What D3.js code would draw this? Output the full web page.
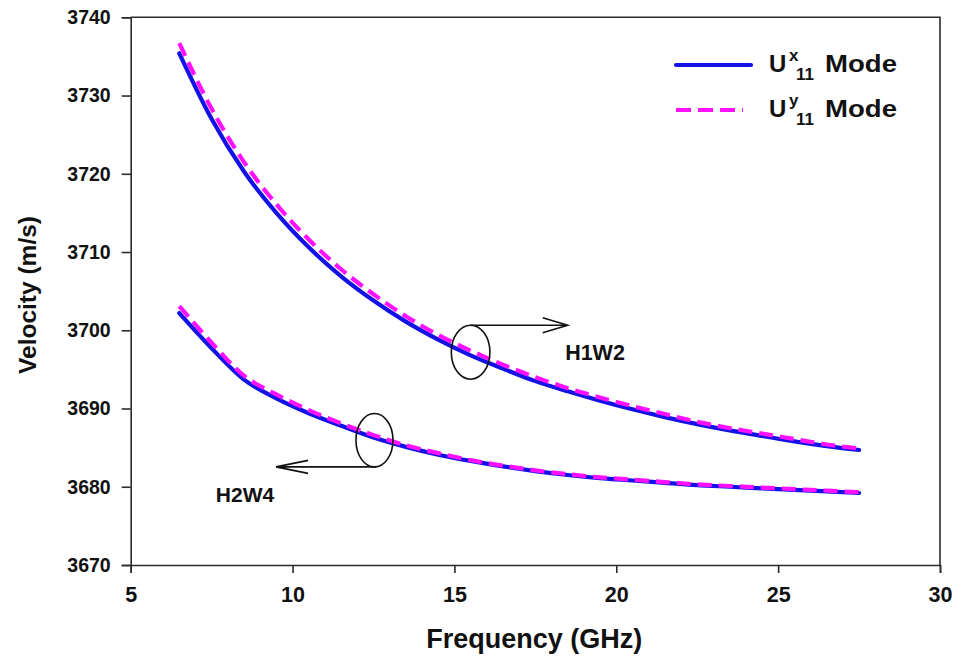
<!DOCTYPE html>
<html>
<head>
<meta charset="utf-8">
<script src="https://cdn.jsdelivr.net/npm/d3@7"></script>
<style>
  html, body { margin: 0; padding: 0; background: #fff; }
  svg { display: block; font-family: Arial, "Liberation Sans", Helvetica, sans-serif; }
</style>
</head>
<body>
<svg id="chart" width="957" height="658"></svg>
<script>
// ---- data ----
const frequency = [6.5, 7.5, 8.5, 9.5, 10.5, 11.5, 12.5, 13.5, 14.5, 15.5, 16.5, 17.5, 18.5, 19.5, 20.5, 21.5, 22.5, 23.5, 24.5, 25.5, 26.5, 27.5];
const h1w2_Ux = [3735.4, 3727.0, 3720.3, 3715.0, 3710.6, 3706.9, 3703.8, 3701.1, 3698.8, 3696.8, 3695.1, 3693.5, 3692.2, 3691.0, 3689.9, 3688.9, 3688.0, 3687.2, 3686.5, 3685.8, 3685.2, 3684.7];
const h1w2_Uy = [3736.7, 3728.3, 3721.5, 3716.1, 3711.6, 3707.8, 3704.6, 3701.8, 3699.4, 3697.4, 3695.6, 3694.0, 3692.6, 3691.4, 3690.3, 3689.3, 3688.3, 3687.5, 3686.8, 3686.1, 3685.4, 3684.9];
const h2w4_Ux = [3702.2, 3697.7, 3693.7, 3691.3, 3689.4, 3687.8, 3686.3, 3685.1, 3684.1, 3683.3, 3682.6, 3682.0, 3681.5, 3681.1, 3680.8, 3680.5, 3680.2, 3680.0, 3679.8, 3679.6, 3679.4, 3679.2];
const h2w4_Uy = [3703.1, 3698.4, 3694.2, 3691.8, 3689.8, 3688.1, 3686.6, 3685.3, 3684.3, 3683.4, 3682.7, 3682.1, 3681.6, 3681.2, 3680.9, 3680.6, 3680.3, 3680.1, 3679.9, 3679.7, 3679.5, 3679.3];
const xTicks = [5, 10, 15, 20, 25, 30];
const yTicks = [3670, 3680, 3690, 3700, 3710, 3720, 3730, 3740];
const groupLabels = ["H1W2", "H2W4"];
const legendLabels = [{sup: "x", sub: "11"}, {sup: "y", sub: "11"}];

// ---- layout ----
const svg = d3.select("#chart");
const pLeft = 130.7, pRight = 940, pTop = 17.3, pBottom = 565;
const x = d3.scaleLinear().domain([5, 30]).range([pLeft, pRight]);
const y = d3.scaleLinear().domain([3670, 3740]).range([pBottom, pTop]);
const axisColor = "#2b2b2b";
const blue = "#1212e6";
const magenta = "#ff10ff";

// frame (top and right)
svg.append("path")
  .attr("d", `M${pLeft},${pTop}H${pRight}V${pBottom}`)
  .attr("fill", "none").attr("stroke", axisColor).attr("stroke-width", 1.6);

// axes
const gx = svg.append("g").attr("transform", `translate(0,${pBottom})`)
  .call(d3.axisBottom(x).tickValues(xTicks).tickSize(8).tickPadding(14).tickFormat(d3.format("d")));
const gy = svg.append("g").attr("transform", `translate(${pLeft},0)`)
  .call(d3.axisLeft(y).tickValues(yTicks).tickSize(9).tickPadding(11).tickFormat(d3.format("d")));
[gx, gy].forEach(g => {
  g.select(".domain").attr("stroke", axisColor).attr("stroke-width", 1.6);
  g.selectAll(".tick line").attr("stroke", axisColor).attr("stroke-width", 1.6);
  g.selectAll("text").attr("fill", "#111").attr("font-weight", "bold").attr("font-family", "Arial, 'Liberation Sans', sans-serif");
});
gx.selectAll("text").attr("font-size", 21.5);
gy.selectAll("text").attr("font-size", 19.5);

// axis titles
svg.append("text").attr("x", (pLeft + pRight) / 2 - 1).attr("y", 648)
  .attr("text-anchor", "middle").attr("font-size", 27).attr("font-weight", "bold").attr("fill", "#111")
  .text("Frequency (GHz)");
svg.append("text").attr("transform", `translate(36,295) rotate(-90)`)
  .attr("text-anchor", "middle").attr("font-size", 24.5).attr("font-weight", "bold").attr("fill", "#111")
  .text("Velocity (m/s)");

// lines
const lineSmooth = d3.line().x((d, i) => x(frequency[i])).y(d => y(d)).curve(d3.curveMonotoneX);
function drawSeries(vals, color, dashed) {
  const p = svg.append("path").datum(vals)
    .attr("d", lineSmooth).attr("fill", "none").attr("stroke", color)
    .attr("stroke-width", 4.2).attr("stroke-linejoin", "round");
  if (dashed) p.attr("stroke-dasharray", "14,7").attr("stroke-linecap", "butt");
  else p.attr("stroke-linecap", "round");
}
drawSeries(h1w2_Ux, blue, false);
drawSeries(h2w4_Ux, blue, false);
drawSeries(h1w2_Uy, magenta, true);
drawSeries(h2w4_Uy, magenta, true);

// annotations
const ann = svg.append("g").attr("fill", "none").attr("stroke", "#111").attr("stroke-width", 1.6);
const c1 = {x: x(15.5), y: y(3697.2), rx: 19.3, ry: 27};
ann.append("ellipse").attr("cx", c1.x).attr("cy", c1.y).attr("rx", c1.rx).attr("ry", c1.ry);
const a1y = c1.y - c1.ry, a1end = x(18.5);
ann.append("path").attr("d", `M${c1.x},${a1y}H${a1end}M${a1end - 25},${a1y - 7.5}L${a1end},${a1y}L${a1end - 25},${a1y + 7.5}`);
const c2 = {x: x(12.53), y: y(3685.95), rx: 18.5, ry: 26.7};
ann.append("ellipse").attr("cx", c2.x).attr("cy", c2.y).attr("rx", c2.rx).attr("ry", c2.ry);
const a2y = c2.y + c2.ry, a2end = x(9.49);
ann.append("path").attr("d", `M${c2.x + 2},${a2y}H${a2end}M${a2end + 32},${a2y - 6.5}L${a2end},${a2y}L${a2end + 32},${a2y + 6.5}`);

svg.append("text").attr("x", x(18.42)).attr("y", 360).attr("font-size", 21.5).attr("font-weight", "bold").attr("fill", "#111").text(groupLabels[0]);
svg.append("text").attr("x", x(7.63)).attr("y", 501.5).attr("font-size", 21).attr("font-weight", "bold").attr("fill", "#111").text(groupLabels[1]);

// legend
const legY = [65, 110];
legendLabels.forEach((lab, i) => {
  const yy = legY[i];
  const ln = svg.append("line").attr("x1", 676).attr("x2", 751).attr("y1", yy).attr("y2", yy)
    .attr("stroke", i === 0 ? blue : magenta).attr("stroke-width", 4.2);
  if (i === 0) ln.attr("stroke-linecap", "round");
  else ln.attr("x2", 743).attr("stroke-dasharray", "15,7");
  const t = svg.append("g").attr("font-weight", "bold").attr("fill", "#111").attr("font-size", 24);
  t.append("text").attr("x", 769).attr("y", yy + 7).text("U");
  t.append("text").attr("x", 789).attr("y", yy - 4).attr("font-size", 17).text(lab.sup);
  t.append("text").attr("x", 796).attr("y", yy + 15).attr("font-size", 17).text(lab.sub);
  t.append("text").attr("x", 825).attr("y", yy + 7).attr("textLength", 72).attr("lengthAdjust", "spacingAndGlyphs").text("Mode");
});
</script>
</body>
</html>
